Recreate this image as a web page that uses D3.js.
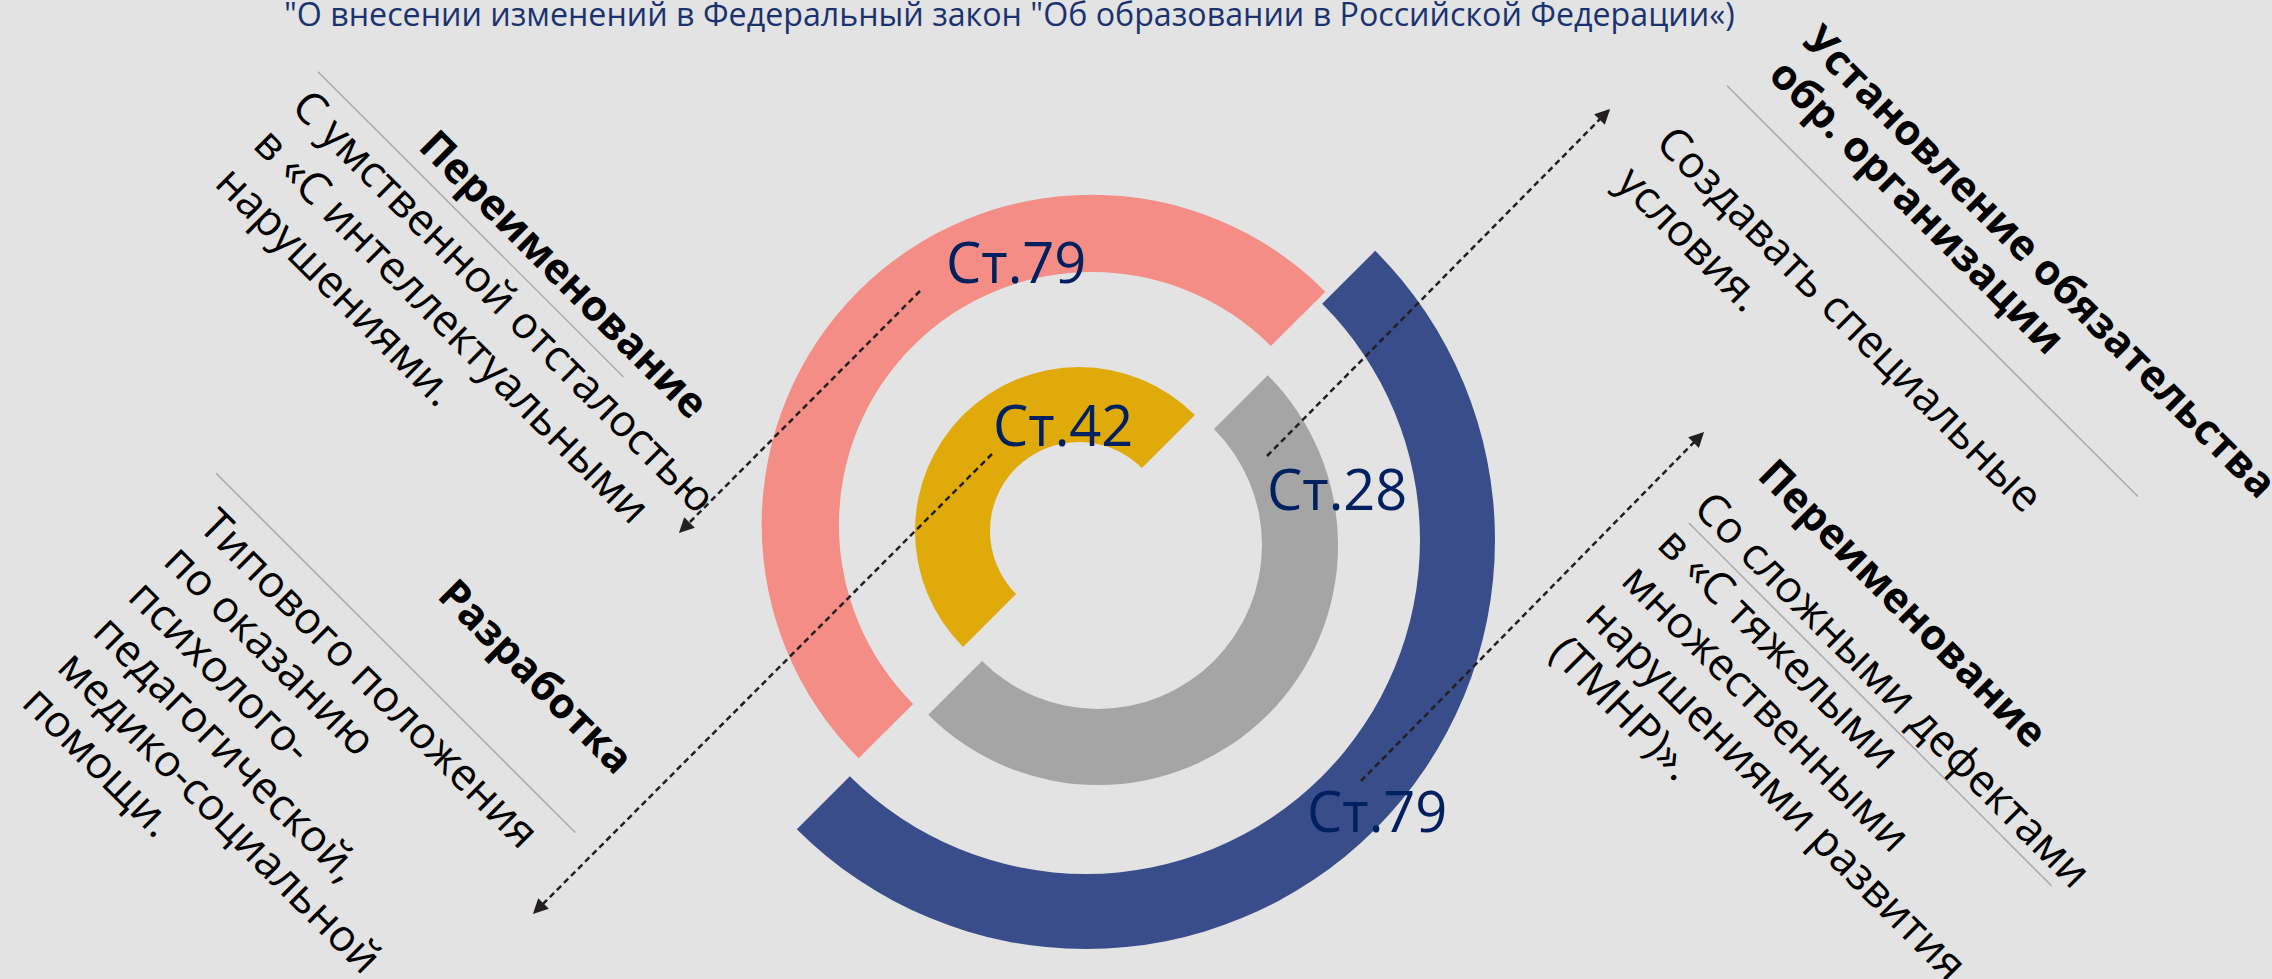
<!DOCTYPE html>
<html>
<head>
<meta charset="utf-8">
<script src="https://cdn.jsdelivr.net/npm/d3@7"></script>
<style>
  html, body { margin: 0; padding: 0; background: #E3E3E3; }
  svg { display: block; }
  text { font-family: "Open Sans", "Noto Sans", sans-serif; }
</style>
</head>
<body>
<svg id="chart" width="2272" height="979"></svg>
<script>
// ---------------- DATA ----------------
const titleText = '"О внесении изменений в Федеральный закон "Об образовании в Российской Федерации«)';
const arcLabels   = ["Ст.79", "Ст.42", "Ст.28", "Ст.79"];
const arcStartDeg = [-135, -135, 45, 45];
const arcEndDeg   = [45, 45, 225, 225];

const block1Head = ["Переименование"];
const block1Body = ["С умственной отсталостью", "в «С интеллектуальными", "нарушениями."];
const block2Head = ["Разработка"];
const block2Body = ["Типового положения", "по оказанию", "психолого-", "педагогической,", "медико-социальной", "помощи."];
const block3Head = ["Установление обязательства", "обр. организации"];
const block3Body = ["Создавать специальные", "условия."];
const block4Head = ["Переименование"];
const block4Body = ["Со сложными дефектами", "в «С тяжелыми", "множественными", "нарушениями развития", "(ТМНР)»."];

// ---------------- LAYOUT / STYLE ----------------
const arcColors = ["#F58D87", "#E0AA0B", "#A5A5A5", "#394D8B"];
const arcCenters = [[1092, 525], [1079, 531], [1098, 545], [1086, 540]];
const arcRadii = [[253, 330], [89, 164], [164, 240], [334, 409]];
const labelPos = [[946, 283], [993, 446], [1267, 510], [1307, 832]];

const arrowFrom = [[920, 291], [992, 454], [1267, 456], [1361, 781]];
const arrowTo   = [[680, 532], [534, 913], [1609, 110], [1703, 433]];

const blocks = [
  { head: block1Head, body: block1Body, origin: [417, 148], rule: [16, -124, 308], bodyX: -118, bodyY: 62, bodyStep: 54 },
  { head: block2Head, body: block2Body, origin: [436, 597], rule: [68, -243, 265], bodyX: -218, bodyY: 120, bodyStep: 50 },
  { head: block3Head, body: block3Body, origin: [1801, 43], rule: [82.5, -22, 559], bodyX: -32, bodyY: 176, bodyStep: 56 },
  { head: block4Head, body: block4Body, origin: [1756, 477], rule: [80, -15, 498], bodyX: -22, bodyY: 69, bodyStep: 51 }
];

// ---------------- DRAW ----------------
const svg = d3.select("#chart");
svg.append("rect").attr("width", 2272).attr("height", 979).attr("fill", "#E3E3E3");

const angle = d3.scaleLinear().domain([0, 360]).range([0, 2 * Math.PI]);
const arcGen = d3.arc();

// arrow marker
const defs = svg.append("defs");
defs.append("marker")
  .attr("id", "arrowhead")
  .attr("viewBox", "0 0 10 10")
  .attr("refX", 9).attr("refY", 5)
  .attr("markerWidth", 7).attr("markerHeight", 6)
  .attr("markerUnits", "strokeWidth")
  .attr("orient", "auto")
  .append("path").attr("d", "M0,0 L10,5 L0,10 z").attr("fill", "#231F20");

// title
svg.append("text")
  .attr("x", 284).attr("y", 26)
  .attr("font-size", 32.2)
  .attr("fill", "#1A3370")
  .text(titleText);

// arcs
svg.append("g").selectAll("path")
  .data(arcLabels.map((d, i) => ({ label: d, i })))
  .join("path")
  .attr("transform", d => `translate(${arcCenters[d.i][0]},${arcCenters[d.i][1]})`)
  .attr("d", d => arcGen({
    innerRadius: arcRadii[d.i][0],
    outerRadius: arcRadii[d.i][1],
    startAngle: angle(arcStartDeg[d.i]),
    endAngle: angle(arcEndDeg[d.i])
  }))
  .attr("fill", d => arcColors[d.i]);

// dashed arrows
svg.append("g").selectAll("line")
  .data(arrowFrom.map((d, i) => i))
  .join("line")
  .attr("x1", i => arrowFrom[i][0]).attr("y1", i => arrowFrom[i][1])
  .attr("x2", i => arrowTo[i][0]).attr("y2", i => arrowTo[i][1])
  .attr("stroke", "#231F20")
  .attr("stroke-width", 2.5)
  .attr("stroke-dasharray", "6,4")
  .attr("marker-end", "url(#arrowhead)");

// arc labels
svg.append("g").selectAll("text")
  .data(arcLabels.map((d, i) => ({ label: d, i })))
  .join("text")
  .attr("x", d => labelPos[d.i][0])
  .attr("y", d => labelPos[d.i][1])
  .attr("font-size", 56)
  .attr("fill", "#002060")
  .text(d => d.label);

// rotated text blocks
blocks.forEach(b => {
  const g = svg.append("g")
    .attr("transform", `translate(${b.origin[0]},${b.origin[1]}) rotate(45)`);
  g.append("line")
    .attr("x1", b.rule[1]).attr("x2", b.rule[2])
    .attr("y1", b.rule[0]).attr("y2", b.rule[0])
    .attr("stroke", "#A6A6A6").attr("stroke-width", 1.4);
  g.selectAll("text.head")
    .data(b.head)
    .join("text").attr("class", "head")
    .attr("x", 0).attr("y", (d, i) => i * 48)
    .attr("font-size", 42).attr("font-weight", "bold")
    .attr("fill", "#000")
    .text(d => d);
  g.selectAll("text.body")
    .data(b.body)
    .join("text").attr("class", "body")
    .attr("x", b.bodyX).attr("y", (d, i) => b.bodyY + i * b.bodyStep)
    .attr("font-size", 44)
    .attr("fill", "#000")
    .text(d => d);
});
</script>
</body>
</html>
